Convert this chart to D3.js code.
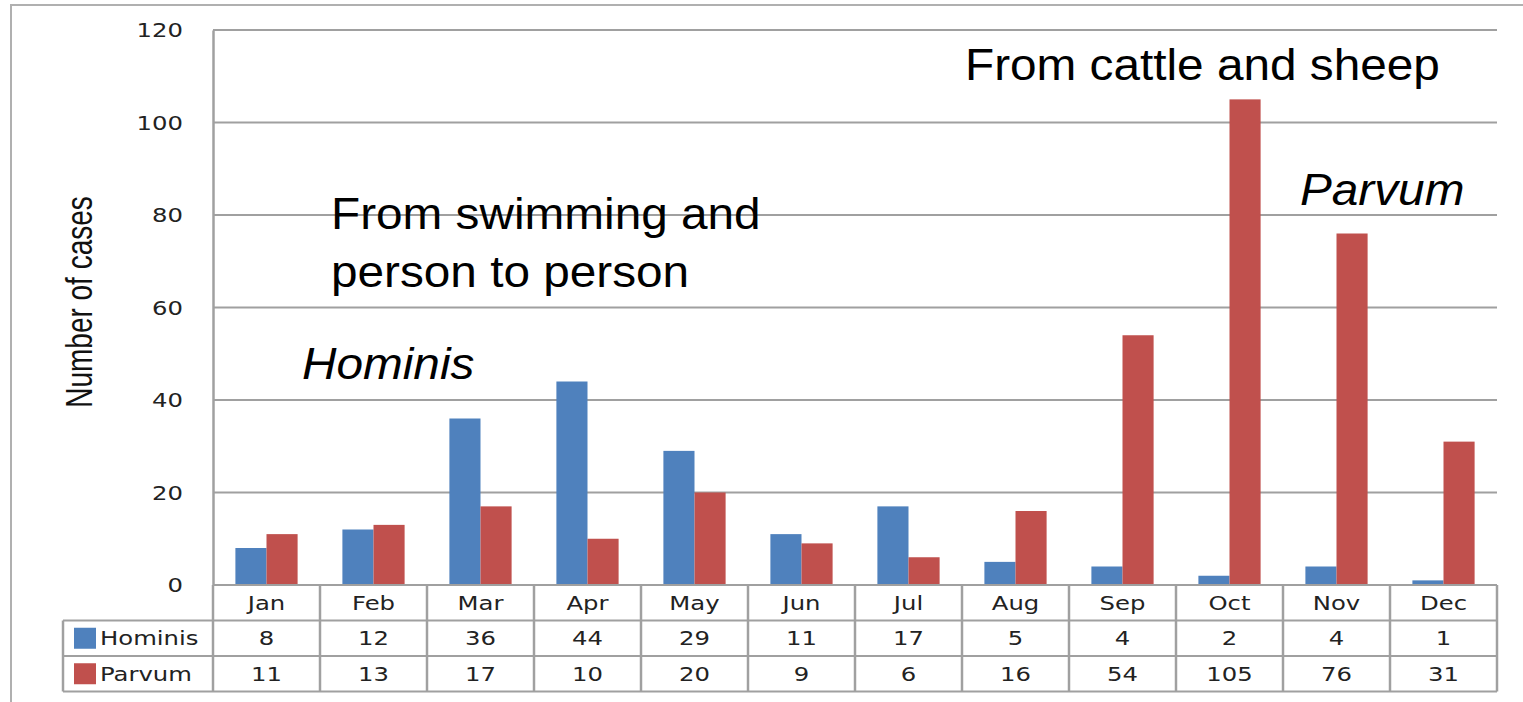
<!DOCTYPE html>
<html>
<head>
<meta charset="utf-8">
<script src="https://cdn.jsdelivr.net/npm/d3@7"></script>
<style>
  body { margin: 0; background: #fff; }
  svg { display: block; }
</style>
</head>
<body>
<div id="chart"></div>
<script>
var months = ["Jan", "Feb", "Mar", "Apr", "May", "Jun", "Jul", "Aug", "Sep", "Oct", "Nov", "Dec"];
var series = ["Hominis", "Parvum"];
var hominis = [8, 12, 36, 44, 29, 11, 17, 5, 4, 2, 4, 1];
var parvum = [11, 13, 17, 10, 20, 9, 6, 16, 54, 105, 76, 31];
var yTicks = [0, 20, 40, 60, 80, 100, 120];
var colors = ["#4f81bd", "#c0504d"];

var W = 1523, H = 702;
var plot = {left: 213, right: 1497, top: 30, bottom: 585};
var rowH = 35.5;
var sx = 1.28;       // chart text is drawn wide
var gridColor = "#a0a0a0";

var svg = d3.select("#chart")
    .append("svg")
        .attr("width", W)
        .attr("height", H);

// outer frame (left + top only)
svg.append("path")
    .attr("d", "M11," + H + "V5H" + W)
    .attr("fill", "none")
    .attr("stroke", "#b0b0b0")
    .attr("stroke-width", 2);

var x0 = d3.scaleBand()
    .domain(months)
    .range([plot.left, plot.right])
    .padding(0);

var x1 = d3.scaleBand()
    .domain(series)
    .range([0, x0.bandwidth()])
    .paddingInner(0)
    .paddingOuter(0.72);

var y = d3.scaleLinear()
    .domain([0, 120])
    .range([plot.bottom, plot.top]);

// gridlines
svg.append("g")
    .selectAll("line")
    .data(yTicks.filter(function(d) { return d > 0; }))
    .join("line")
        .attr("x1", plot.left)
        .attr("x2", plot.right)
        .attr("y1", function(d) { return y(d); })
        .attr("y2", function(d) { return y(d); })
        .attr("stroke", gridColor)
        .attr("stroke-width", 2);

// y axis
var yAxis = svg.append("g")
    .attr("transform", "translate(" + plot.left + ",0)")
    .call(d3.axisLeft(y).tickValues(yTicks).tickSize(0).tickSizeOuter(0));

yAxis.select(".domain")
    .attr("stroke", gridColor)
    .attr("stroke-width", 2.5);

yAxis.selectAll("text")
    .attr("x", null)
    .attr("dy", "0.36em")
    .attr("transform", "translate(-30,0) scale(" + sx + ",1)")
    .attr("text-anchor", "end")
    .attr("fill", "#222")
    .style("font-family", "'DejaVu Sans', Verdana, sans-serif")
    .style("font-size", "19px");

svg.append("text")
    .attr("transform", "translate(92,302) scale(1.35,1) rotate(-90)")
    .attr("text-anchor", "middle")
    .attr("fill", "#111")
    .style("font-family", "'Liberation Sans', Arial, sans-serif")
    .style("font-size", "28px")
    .text("Number of cases");

// bars
var values = [hominis, parvum];
var groups = svg.append("g")
    .selectAll("g")
    .data(series)
    .join("g")
        .attr("fill", function(d, i) { return colors[i]; });

groups.selectAll("rect")
    .data(function(s, si) {
        return months.map(function(m, i) { return {month: m, series: s, value: values[si][i]}; });
    })
    .join("rect")
        .attr("x", function(d) { return x0(d.month) + x1(d.series); })
        .attr("width", x1.bandwidth())
        .attr("y", function(d) { return y(d.value); })
        .attr("height", function(d) { return y(0) - y(d.value); });

// data table
var tableTop = plot.bottom;
var tableLeft = 63;
var table = svg.append("g");

// horizontal rules
var hRows = [
    {y: tableTop, x1: plot.left},
    {y: tableTop + rowH, x1: tableLeft},
    {y: tableTop + 2 * rowH, x1: tableLeft},
    {y: tableTop + 3 * rowH, x1: tableLeft}
];
table.selectAll("line.h")
    .data(hRows)
    .join("line")
        .attr("class", "h")
        .attr("x1", function(d) { return d.x1; })
        .attr("x2", plot.right)
        .attr("y1", function(d) { return d.y; })
        .attr("y2", function(d) { return d.y; })
        .attr("stroke", gridColor)
        .attr("stroke-width", 2);

// vertical rules
var vCols = months.map(function(m) { return x0(m); }).concat([plot.right]);
table.selectAll("line.v")
    .data(vCols)
    .join("line")
        .attr("class", "v")
        .attr("x1", function(d) { return d; })
        .attr("x2", function(d) { return d; })
        .attr("y1", tableTop)
        .attr("y2", tableTop + 3 * rowH)
        .attr("stroke", gridColor)
        .attr("stroke-width", 2.5);

table.append("line")
    .attr("x1", tableLeft).attr("x2", tableLeft)
    .attr("y1", tableTop + rowH).attr("y2", tableTop + 3 * rowH)
    .attr("stroke", gridColor)
    .attr("stroke-width", 2.5);

function cellText(sel) {
    sel.attr("text-anchor", "middle")
        .attr("dy", "0.36em")
        .attr("fill", "#222")
        .style("font-family", "'DejaVu Sans', Verdana, sans-serif")
        .style("font-size", "19px");
}

// month row
table.selectAll("text.m")
    .data(months)
    .join("text")
        .attr("class", "m")
        .attr("transform", function(d) {
            return "translate(" + (x0(d) + x0.bandwidth() / 2) + "," + (tableTop + rowH / 2) + ") scale(" + sx + ",1)";
        })
        .text(function(d) { return d; })
        .call(cellText);

// value rows
series.forEach(function(s, si) {
    var cy = tableTop + rowH * (si + 1.5);
    table.append("g")
        .selectAll("text")
        .data(values[si])
        .join("text")
            .attr("transform", function(d, i) {
                return "translate(" + (x0(months[i]) + x0.bandwidth() / 2) + "," + cy + ") scale(" + sx + ",1)";
            })
            .text(function(d) { return d; })
            .call(cellText);

    table.append("rect")
        .attr("x", 74)
        .attr("y", cy - 10.5)
        .attr("width", 22)
        .attr("height", 21)
        .attr("fill", colors[si]);

    table.append("text")
        .attr("transform", "translate(100," + cy + ") scale(" + sx + ",1)")
        .text(s)
        .call(cellText)
        .attr("text-anchor", "start");
});

// annotations
var notes = [
    {text: "From cattle and sheep", x: 965, y: 80, italic: false},
    {text: "From swimming and", x: 331, y: 229, italic: false},
    {text: "person to person", x: 331, y: 287, italic: false},
    {text: "Hominis", x: 302, y: 379, italic: true},
    {text: "Parvum", x: 1300, y: 205, italic: true}
];

svg.append("g")
    .selectAll("text")
    .data(notes)
    .join("text")
        .attr("transform", function(d) { return "translate(" + d.x + "," + d.y + ") scale(1.085,1)"; })
        .attr("fill", "#000")
        .style("font-family", "'Liberation Sans', Arial, sans-serif")
        .style("font-size", "44px")
        .style("font-style", function(d) { return d.italic ? "italic" : "normal"; })
        .text(function(d) { return d.text; });
</script>
</body>
</html>
